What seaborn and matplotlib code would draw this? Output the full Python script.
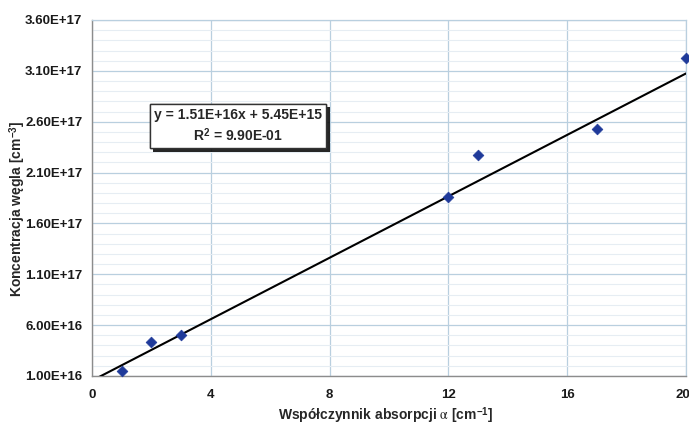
import numpy as np
import pandas as pd
import matplotlib
matplotlib.use("Agg")
import matplotlib.pyplot as plt
import matplotlib.patheffects as pe
import matplotlib.transforms as mtransforms
from matplotlib.ticker import MultipleLocator, FuncFormatter
import seaborn as sns

# Measured absorption coefficient vs. carbon concentration
absorption = [1, 2, 3, 12, 13, 17, 20]
concentration = [1.54e16, 4.33e16, 5.00e16, 1.857e17, 2.27e17, 2.53e17, 3.23e17]

# Linear trendline parameters (as reported on the chart)
slope = 1.51e16
intercept = 5.45e15
r_squared = 0.990

x_ticks = [0, 4, 8, 12, 16, 20]
y_ticks = [1.0e16, 6.0e16, 1.1e17, 1.6e17, 2.1e17, 2.6e17, 3.1e17, 3.6e17]

sns.set_theme(style="white")
plt.rcParams["font.family"] = ["Liberation Sans", "DejaVu Sans"]
plt.rcParams["mathtext.fontset"] = "stix"

points = pd.DataFrame({"alpha": absorption, "conc": concentration})
trend_x = np.array([x_ticks[0], x_ticks[-1]], dtype=float)
trend = pd.DataFrame({"alpha": trend_x, "conc": slope * trend_x + intercept})

fig = plt.figure(figsize=(6.89, 4.28), dpi=100)
ax = fig.add_axes([92 / 689, 1 - 376 / 428, 594 / 689, 356 / 428])

grid_major = "#b9cfdf"
grid_minor = "#e6edf3"

ax.set_xlim(x_ticks[0], x_ticks[-1])
ax.set_ylim(y_ticks[0], y_ticks[-1])
ax.set_xticks(x_ticks)
ax.set_yticks(y_ticks)
ax.yaxis.set_minor_locator(MultipleLocator(1e16))
ax.yaxis.set_major_formatter(FuncFormatter(lambda v, p: f"{v:.2E}"))
ax.xaxis.set_major_formatter(FuncFormatter(lambda v, p: f"{v:g}"))

ax.grid(which="major", axis="both", color=grid_major, linewidth=0.9)
ax.grid(which="minor", axis="y", color=grid_minor, linewidth=0.8)
ax.set_axisbelow(True)

sns.lineplot(data=trend, x="alpha", y="conc", ax=ax, color="black",
             linewidth=1.5, zorder=3)
sns.scatterplot(data=points, x="alpha", y="conc", ax=ax, marker="D",
                s=30, color="#1f3a9a", edgecolor="#1f3a9a", linewidth=0.5,
                zorder=4, clip_on=False)

for side in ["left", "bottom"]:
    ax.spines[side].set_color("#8c8c8c")
    ax.spines[side].set_linewidth(1.0)
for side in ["top", "right"]:
    ax.spines[side].set_color(grid_major)
    ax.spines[side].set_linewidth(0.9)
    ax.spines[side].set_visible(True)

ax.tick_params(axis="y", which="major", direction="out", length=5,
               color="#8c8c8c", width=1, pad=2, labelsize=9.5)
ax.tick_params(axis="y", which="minor", length=0)
ax.tick_params(axis="x", which="major", direction="out", length=0,
               pad=9, labelsize=9.5)
for lab in ax.get_xticklabels() + ax.get_yticklabels():
    lab.set_fontweight("bold")
    lab.set_color("#1a1a1a")

# keep the last x tick label inside the figure edge
last = ax.get_xticklabels()[-1]
last.set_transform(last.get_transform() +
                   mtransforms.ScaledTranslation(-3 / 100, 0, fig.dpi_scale_trans))

ax.set_xlabel(r"Współczynnik absorpcji $\mathrm{\alpha}$ [cm$^{\mathregular{-1}}$]",
              fontsize=10, fontweight="bold", va="top")
ax.xaxis.set_label_coords(0.495, -0.083)
ax.set_ylabel(r"Koncentracja węgla [cm$^{\mathregular{-3}}$]",
              fontsize=10, fontweight="bold")
ax.yaxis.set_label_coords(-0.108, 0.469)

eq = ax.text(0.246, 0.702,
             f"y = {slope:.2E}x + {intercept:.2E}\nR$^{{\\mathregular{{2}}}}$ = {r_squared:.2E}",
             transform=ax.transAxes, ha="center", va="center",
             fontsize=10, fontweight="bold", linespacing=1.3, zorder=6,
             bbox=dict(boxstyle="square,pad=0.3", facecolor="white",
                       edgecolor="#333333", linewidth=1.0))
eq.get_bbox_patch().set_path_effects([
    pe.withSimplePatchShadow(offset=(2.5, -2.5), shadow_rgbFace="black", alpha=0.85),
    pe.Normal(),
])

fig.savefig("out.png", dpi=100, facecolor="white")
